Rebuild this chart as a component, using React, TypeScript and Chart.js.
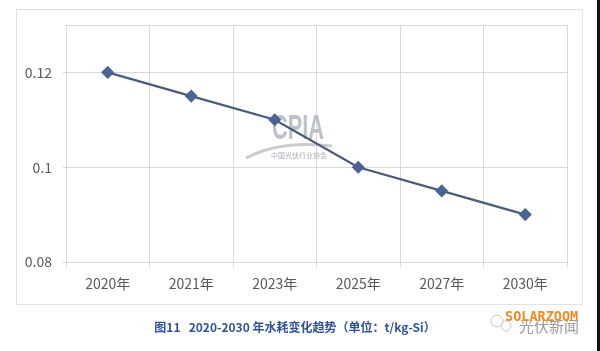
import React, { useEffect, useRef } from "react";
import { Chart, registerables } from "chart.js";

Chart.register(...registerables);

const categories = ["2020年", "2021年", "2023年", "2025年", "2027年", "2030年"];
const waterUse = [0.12, 0.115, 0.11, 0.1, 0.095, 0.09];
const yTicks = [0.08, 0.1, 0.12];
const caption = "图11   2020-2030 年水耗变化趋势（单位：t/kg-Si）";

const FONT = "'Noto Sans CJK SC', 'Noto Sans', sans-serif";

const decorPlugin = {
  id: "decor",
  beforeDraw(chart: any) {
    const ctx = chart.ctx;
    ctx.save();
    ctx.fillStyle = "#ffffff";
    ctx.fillRect(0, 0, chart.width, chart.height);
    // outer frame
    ctx.strokeStyle = "#e3e3e3";
    ctx.lineWidth = 1;
    ctx.strokeRect(16.5, 9.5, 566, 295);
    // black strip at right edge
    ctx.fillStyle = "#111111";
    ctx.fillRect(597, 0, 3, chart.height);
    // caption
    ctx.fillStyle = "#2f5597";
    ctx.font = `bold 12px ${FONT}`;
    ctx.textAlign = "center";
    ctx.textBaseline = "middle";
    ctx.fillText(caption, 295, 327);
    // watermark SOLARZOOM
    ctx.textAlign = "left";
    ctx.fillStyle = "#9a9a9a";
    ctx.font = `15px ${FONT}`;
    ctx.fillText("光伏新闻", 519, 326);
    ctx.fillStyle = "#f08a24";
    ctx.font = `bold 13.5px 'DejaVu Sans Mono', monospace`;
    ctx.fillText("SOLARZOOM", 505, 317);
    // wechat-like icon
    ctx.strokeStyle = "#c8c8c8";
    ctx.lineWidth = 1;
    ctx.beginPath();
    ctx.arc(497, 321, 6, 0, Math.PI * 2);
    ctx.stroke();
    ctx.beginPath();
    ctx.arc(506, 326, 5, 0, Math.PI * 2);
    ctx.stroke();
    ctx.restore();
  },
  beforeDatasetsDraw(chart: any) {
    const ctx = chart.ctx;
    const a = chart.chartArea;
    ctx.save();
    ctx.strokeStyle = "#d9d9d9";
    ctx.lineWidth = 1;
    ctx.strokeRect(Math.round(a.left) + 0.5, Math.round(a.top) + 0.5, Math.round(a.right - a.left), Math.round(a.bottom - a.top));
    // CPIA watermark
    ctx.globalAlpha = 0.75;
    ctx.fillStyle = "#a7adb8";
    ctx.save();
    ctx.translate(272, 139);
    ctx.scale(0.66, 1.05);
    ctx.font = `bold 33px 'Liberation Sans', sans-serif`;
    ctx.textBaseline = "alphabetic";
    ctx.textAlign = "left";
    ctx.fillText("CPIA", 0, 0);
    ctx.restore();
    ctx.strokeStyle = "#b5b9c0";
    ctx.lineWidth = 3;
    ctx.beginPath();
    ctx.moveTo(246, 158);
    ctx.quadraticCurveTo(280, 140, 332, 146);
    ctx.stroke();
    ctx.fillStyle = "#8e939c";
    ctx.font = `7px ${FONT}`;
    ctx.textAlign = "left";
    ctx.textBaseline = "middle";
    ctx.fillText("中国光伏行业协会", 271, 155);
    ctx.restore();
  },
};

export default function App() {
  const ref = useRef<HTMLCanvasElement | null>(null);
  useEffect(() => {
    if (!ref.current) return;
    const chart = new Chart(ref.current, {
      type: "line",
      data: {
        labels: categories,
        datasets: [
          {
            data: waterUse,
            borderColor: "#4b5b7a",
            borderWidth: 2.2,
            backgroundColor: "#4a6496",
            pointBackgroundColor: "#4a6496",
            pointBorderColor: "#4a6496",
            pointStyle: "rectRot",
            pointRadius: 5,
            tension: 0,
          },
        ],
      },
      options: {
        responsive: false,
        animation: false,
        devicePixelRatio: 1,
        layout: { padding: { left: 16, top: 25, right: 33, bottom: 47 } },
        plugins: { legend: { display: false }, tooltip: { enabled: false } },
        scales: {
          x: {
            offset: true,
            grid: { offset: true, color: "#d9d9d9", tickLength: 5, drawTicks: true },
            border: { display: false },
            ticks: { color: "#595959", font: { family: FONT, size: 14 }, padding: 8, maxRotation: 0 },
            afterFit: (s: any) => { s.height = 42; },
          },
          y: {
            min: 0.08,
            max: 0.13,
            afterBuildTicks: (s: any) => { s.ticks = yTicks.map((v) => ({ value: v })); },
            grid: { color: "#d9d9d9", drawTicks: true, tickLength: 3 },
            border: { display: false },
            ticks: {
              color: "#595959",
              font: { family: FONT, size: 14 },
              padding: 11,
              callback: (v: any) => String(Number(v)),
            },
            afterFit: (s: any) => { s.width = 50; },
          },
        },
      },
      plugins: [decorPlugin],
    });
    return () => chart.destroy();
  }, []);
  return (
    <div style={{ position: "fixed", left: 0, top: 0, width: 600, height: 351, background: "#fff" }}>
      <canvas ref={ref} width={600} height={351} style={{ display: "block" }} />
    </div>
  );
}
